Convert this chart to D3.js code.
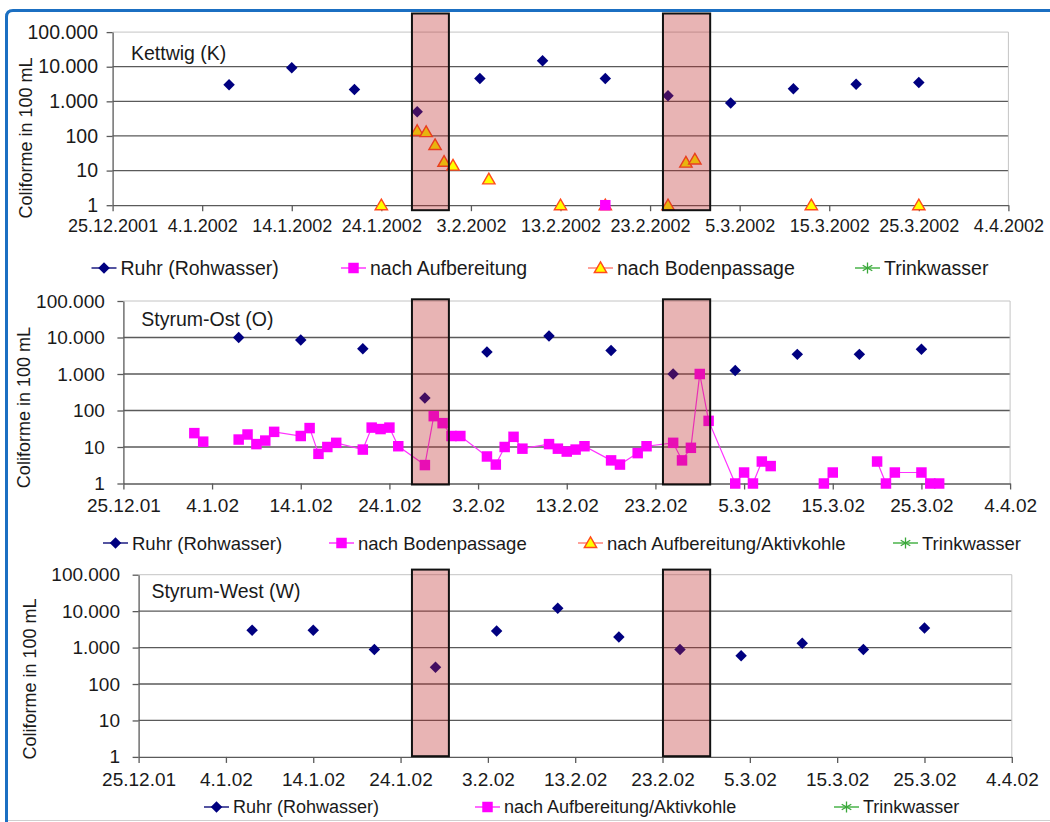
<!DOCTYPE html>
<html>
<head>
<meta charset="utf-8">
<script src="https://cdn.jsdelivr.net/npm/d3@7"></script>
<style>
  body { margin: 0; background: #fff; }
  svg { display: block; font-family: "Liberation Sans", Arial, sans-serif; }
</style>
</head>
<body>
<div id="chart"></div>
<script>
// ---- data ----
const xTickDates = ["2001-12-25", "2002-01-04", "2002-01-14", "2002-01-24", "2002-02-03", "2002-02-13",
  "2002-02-23", "2002-03-05", "2002-03-15", "2002-03-25", "2002-04-04"];
const yTicks = [1, 10, 100, 1000, 10000, 100000];

// weekly river samples (same days at all three sites)
const ruhrDates = ["2002-01-07", "2002-01-14", "2002-01-21", "2002-01-28", "2002-02-04", "2002-02-11",
  "2002-02-18", "2002-02-25", "2002-03-04", "2002-03-11", "2002-03-18", "2002-03-25"];

// Kettwig (K)
const kettwigRuhr = [3000, 9400, 2200, 500, 4600, 14800, 4600, 1450, 900, 2300, 3100, 3500];
const kettwigBodenDates = ["2002-01-24", "2002-01-28", "2002-01-29", "2002-01-30", "2002-01-31", "2002-02-01",
  "2002-02-05", "2002-02-13", "2002-02-18", "2002-02-25", "2002-02-27", "2002-02-28", "2002-03-13", "2002-03-25"];
const kettwigBoden = [1, 140, 130, 55, 18, 14, 5.6, 1, 1, 1, 17, 21, 1, 1];
const kettwigAufbDates = ["2002-02-18"];
const kettwigAufb = [1];

// Styrum-Ost (O)
const ostRuhr = [10000, 8500, 4900, 220, 4000, 11000, 4400, 1000, 1250, 3450, 3450, 4750];
const ostBodenDates = ["2002-01-02", "2002-01-03", "2002-01-04", "2002-01-07", "2002-01-08", "2002-01-09",
  "2002-01-10", "2002-01-11", "2002-01-14", "2002-01-15", "2002-01-16", "2002-01-17", "2002-01-18",
  "2002-01-21", "2002-01-22", "2002-01-23", "2002-01-24", "2002-01-25", "2002-01-28", "2002-01-29",
  "2002-01-30", "2002-01-31", "2002-02-01", "2002-02-04", "2002-02-05", "2002-02-06", "2002-02-07",
  "2002-02-08", "2002-02-11", "2002-02-12", "2002-02-13", "2002-02-14", "2002-02-15", "2002-02-18",
  "2002-02-19", "2002-02-21", "2002-02-22", "2002-02-25", "2002-02-26", "2002-02-27", "2002-02-28",
  "2002-03-01", "2002-03-04", "2002-03-05", "2002-03-06", "2002-03-07", "2002-03-08", "2002-03-11",
  "2002-03-14", "2002-03-15", "2002-03-18", "2002-03-20", "2002-03-21", "2002-03-22", "2002-03-25",
  "2002-03-26", "2002-03-27"];
const ostBoden = [24, 14, null, 16, 22, 12,
  15, 26, 20, 33, 6.5, 10, 13,
  8.5, 34, 31, 34, 10.5, 3.2, 70,
  45, 20, 20, 5.5, 3.3, 10, 19,
  9, 12, 9, 7.5, 8.5, 10.5, 4.3,
  3.3, 6.8, 10.5, 13, 4.3, 9.5, 1000,
  52, 1, 2, 1, 4, 3, null,
  1, 2, null, 4, 1, 2, 2,
  1, 1];

// Styrum-West (W)
const westRuhr = [3000, 3000, 880, 290, 2850, 12000, 1950, 880, 600, 1320, 880, 3450];

// shaded periods
const shadeFrom = ["2002-01-27T10:00:00Z", "2002-02-24T10:30:00Z"];
const shadeTo = ["2002-01-31T13:00:00Z", "2002-03-01T17:00:00Z"];

const legendK = ["Ruhr (Rohwasser)", "nach Aufbereitung", "nach Bodenpassage", "Trinkwasser"];
const legendO = ["Ruhr (Rohwasser)", "nach Bodenpassage", "nach Aufbereitung/Aktivkohle", "Trinkwasser"];
const legendW = ["Ruhr (Rohwasser)", "nach Aufbereitung/Aktivkohle", "Trinkwasser"];

// ---- setup ----
const width = 1050, height = 822;
const parse = d3.utcParse("%Y-%m-%d");
const de = d3.formatLocale({ decimal: ",", thousands: ".", grouping: [3], currency: ["", "€"] });
const fmtY = de.format(",d");

const svg = d3.select("#chart").append("svg")
  .attr("width", width)
  .attr("height", height);

// outer frame
svg.append("path")
  .attr("d", "M6.5,840 V17 Q6.5,10.5 13,10.5 H1060")
  .attr("fill", "none")
  .attr("stroke", "#1b6fc2")
  .attr("stroke-width", 3);
svg.append("line")
  .attr("x1", 8).attr("x2", 1050).attr("y1", 820.5).attr("y2", 820.5)
  .attr("stroke", "#cfcfcf");

const col = { ruhr: "#000080", mag: "#ff00ff", tri: "#ffff00", triLine: "#ff4a1c", green: "#3aa83a" };

const panels = [
  {
    title: "Kettwig (K)", year: d => d.getUTCFullYear(),
    x0: 112.6, x1: 1008.4, yTop: 32.1, yBot: 205.2, shadeTop: 13.5, shadeBot: 210.2,
    yPad: 8.6, xPad: 8.4, tickFont: 18, yFont: 19.5, titleX: 131, titleY: 60, titleFont: 19.5,
    yTitle: [26, 138], legendY: 268, legendFont: 19.5, legend: legendK,
    legendKinds: ["diamond", "square", "triangle", "star"], legendX: [120.5, 370, 617, 884],
    series: [
      { kind: "triangle", dates: kettwigBodenDates, values: kettwigBoden },
      { kind: "square", dates: kettwigAufbDates, values: kettwigAufb },
      { kind: "diamond", dates: ruhrDates, values: kettwigRuhr }
    ]
  },
  {
    title: "Styrum-Ost (O)", year: d => String(d.getUTCFullYear()).slice(2),
    x0: 123.4, x1: 1010.1, yTop: 301, yBot: 483.5, shadeTop: 299.3, shadeBot: 484.5,
    yPad: 12.6, xPad: 9.5, tickFont: 19, yFont: 19, titleX: 141.3, titleY: 326.3, titleFont: 19.5,
    yTitle: [24, 407.6], legendY: 543, legendFont: 18.5, legend: legendO,
    legendKinds: ["diamond", "square", "triangle", "star"], legendX: [132, 358, 607, 922],
    series: [
      { kind: "square", dates: ostBodenDates, values: ostBoden, line: true },
      { kind: "diamond", dates: ruhrDates, values: ostRuhr }
    ]
  },
  {
    title: "Styrum-West (W)", year: d => String(d.getUTCFullYear()).slice(2),
    x0: 138.6, x1: 1011.8, yTop: 574.7, yBot: 756.9, shadeTop: 569.6, shadeBot: 756.2,
    yPad: 12.6, xPad: 9.5, tickFont: 19, yFont: 19, titleX: 151.4, titleY: 598.3, titleFont: 19.5,
    yTitle: [29.5, 679], legendY: 807, legendFont: 18, legend: legendW,
    legendKinds: ["diamond", "square", "star"], legendX: [233, 504, 863],
    series: [
      { kind: "diamond", dates: ruhrDates, values: westRuhr }
    ]
  }
];

// shaded boxes are drawn shapes placed the same in every panel (top panel's time scale)
const shadeX = d3.scaleUtc()
  .domain([parse(xTickDates[0]), parse(xTickDates[xTickDates.length - 1])])
  .range([panels[0].x0, panels[0].x1]);

function marker(sel, kind) {
  if (kind === "diamond") {
    sel.append("path")
      .attr("d", d3.symbol(d3.symbolSquare, 66)())
      .attr("transform", "rotate(45)")
      .attr("fill", col.ruhr);
  } else if (kind === "square") {
    sel.append("path")
      .attr("d", d3.symbol(d3.symbolSquare, 110)())
      .attr("fill", col.mag);
  } else if (kind === "triangle") {
    sel.append("path")
      .attr("d", d3.symbol(d3.symbolTriangle, 66)())
      .attr("transform", "translate(0,1)")
      .attr("fill", col.tri)
      .attr("stroke", col.triLine)
      .attr("stroke-width", 1.4);
  } else if (kind === "star") {
    const r = 5.5, a = r * 0.87, b = r * 0.5;
    sel.append("path")
      .attr("d", `M0,${-r}L0,${r}M${-a},${-b}L${a},${b}M${-a},${b}L${a},${-b}`)
      .attr("stroke", col.green)
      .attr("stroke-width", 1.3);
  }
}

const legendLine = { diamond: "#2a2a8a", square: "#ff44ff", triangle: "#ff8a80", star: "#55b855" };

panels.forEach(p => {
  const x = d3.scaleUtc()
    .domain([parse(xTickDates[0]), parse(xTickDates[xTickDates.length - 1])])
    .range([p.x0, p.x1]);
  const y = d3.scaleLog()
    .domain([1, 100000])
    .range([p.yBot, p.yTop]);

  const g = svg.append("g");

  // grid lines
  g.append("g")
    .selectAll("line")
    .data(yTicks.slice(1))
    .join("line")
    .attr("x1", p.x0).attr("x2", p.x1)
    .attr("y1", d => y(d)).attr("y2", d => y(d))
    .attr("stroke", d => d === 100000 ? "#c4c4c4" : "#5a5a5a")
    .attr("stroke-width", d => d === 100000 ? 1 : 1.3);
  g.append("line")
    .attr("x1", p.x1).attr("x2", p.x1)
    .attr("y1", p.yTop).attr("y2", p.yBot)
    .attr("stroke", "#c4c4c4");

  // y axis
  const yAxis = g.append("g")
    .attr("transform", `translate(${p.x0},0)`)
    .call(d3.axisLeft(y).tickValues(yTicks).tickFormat(fmtY).tickSize(6).tickSizeOuter(0).tickPadding(p.yPad));
  yAxis.select(".domain").attr("stroke", "#5a5a5a").attr("stroke-width", 1.3);
  yAxis.selectAll(".tick line").attr("stroke", "#5a5a5a").attr("stroke-width", 1.3);
  yAxis.selectAll("text").attr("font-size", p.yFont).attr("fill", "#1a1a1a").attr("font-family", null);

  // x axis
  const xAxis = g.append("g")
    .attr("transform", `translate(0,${p.yBot})`)
    .call(d3.axisBottom(x)
      .tickValues(xTickDates.map(parse))
      .tickFormat(d => `${d.getUTCDate()}.${d.getUTCMonth() + 1}.${p.year(d)}`)
      .tickSize(6).tickSizeOuter(0).tickPadding(p.xPad));
  xAxis.select(".domain").attr("stroke", "#5a5a5a").attr("stroke-width", 1.3);
  xAxis.selectAll(".tick line").attr("stroke", "#5a5a5a").attr("stroke-width", 1.3);
  xAxis.selectAll("text").attr("font-size", p.tickFont).attr("fill", "#1a1a1a").attr("font-family", null);

  // series
  p.series.forEach(s => {
    const pts = s.dates.map((d, i) => ({ date: parse(d), v: s.values[i] }));
    if (s.line) {
      g.append("path")
        .datum(pts)
        .attr("fill", "none")
        .attr("stroke", "#ff33ff")
        .attr("stroke-width", 1.2)
        .attr("d", d3.line().defined(d => d.v != null).x(d => x(d.date)).y(d => y(d.v)));
    }
    g.append("g")
      .selectAll("g")
      .data(pts.filter(d => d.v != null))
      .join("g")
      .attr("transform", d => `translate(${x(d.date)},${y(d.v)})`)
      .each(function () { marker(d3.select(this), s.kind); });
  });

  // shaded periods (semi-transparent on top)
  g.append("g")
    .selectAll("rect")
    .data(shadeFrom.map((d, i) => [d3.isoParse(d), d3.isoParse(shadeTo[i])]))
    .join("rect")
    .attr("x", d => shadeX(d[0]))
    .attr("width", d => shadeX(d[1]) - shadeX(d[0]))
    .attr("y", p.shadeTop)
    .attr("height", p.shadeBot - p.shadeTop)
    .attr("fill", "rgba(190,40,40,0.35)")
    .attr("stroke", "#111")
    .attr("stroke-width", 2);

  // titles
  g.append("text")
    .attr("x", p.titleX).attr("y", p.titleY)
    .attr("font-size", p.titleFont).attr("fill", "#1a1a1a")
    .text(p.title);
  g.append("text")
    .attr("transform", `translate(${p.yTitle[0]},${p.yTitle[1]}) rotate(-90)`)
    .attr("text-anchor", "middle")
    .attr("dominant-baseline", "central")
    .attr("font-size", 18).attr("fill", "#1a1a1a")
    .text("Coliforme in 100 mL");

  // legend
  const lg = g.append("g")
    .selectAll("g")
    .data(p.legend)
    .join("g")
    .attr("transform", (d, i) => `translate(${p.legendX[i]},${p.legendY})`);
  lg.append("line")
    .attr("x1", -29).attr("x2", -4)
    .attr("stroke", (d, i) => legendLine[p.legendKinds[i]])
    .attr("stroke-width", 1.6);
  lg.append("g")
    .attr("transform", "translate(-16.5,0)")
    .each(function (d, i) { marker(d3.select(this), p.legendKinds[i]); });
  lg.append("text")
    .attr("dominant-baseline", "central")
    .attr("font-size", p.legendFont).attr("fill", "#1a1a1a")
    .text(d => d);
});
</script>
</body>
</html>
